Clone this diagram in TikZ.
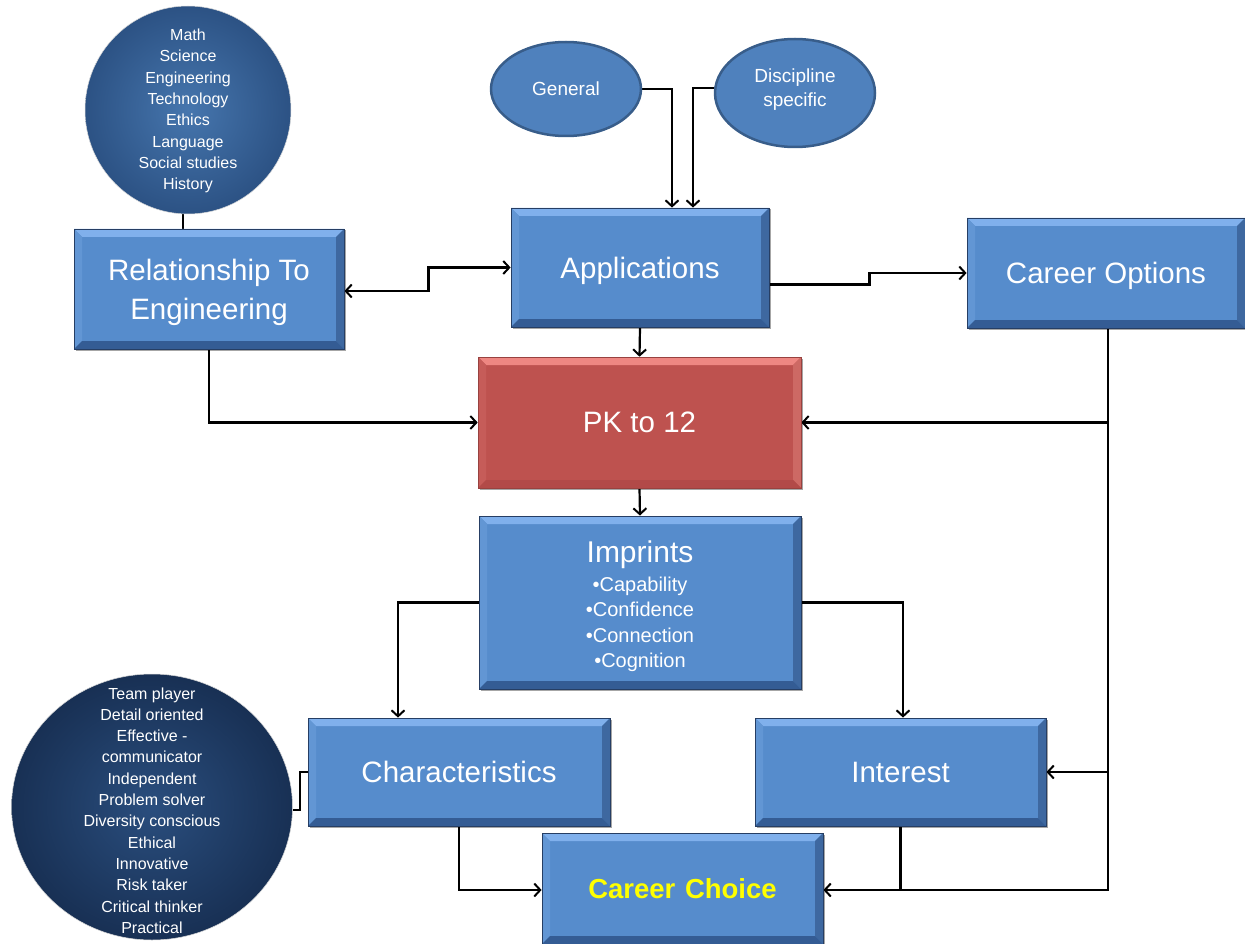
\documentclass[tikz,border=0pt]{standalone}
\usepackage{fontspec}
\setmainfont{Liberation Sans}
\usetikzlibrary{arrows.meta,backgrounds,shapes.geometric,shadows}

\definecolor{boxblue}{RGB}{86,140,204}
\definecolor{bevtop}{RGB}{128,176,236}
\definecolor{bevleft}{RGB}{98,150,212}
\definecolor{bevright}{RGB}{62,104,160}
\definecolor{bevbot}{RGB}{52,92,148}
\definecolor{boxedge}{RGB}{38,62,100}
\definecolor{pkred}{RGB}{190,82,79}
\definecolor{pktop}{RGB}{238,135,130}
\definecolor{pkleft}{RGB}{198,92,89}
\definecolor{pkright}{RGB}{205,105,100}
\definecolor{pkbot}{RGB}{178,74,72}
\definecolor{ellfill}{RGB}{79,129,189}
\definecolor{elledge}{RGB}{56,93,138}
\definecolor{circA}{RGB}{70,118,174}
\definecolor{circAedge}{RGB}{44,82,132}
\definecolor{circB}{RGB}{42,78,126}
\definecolor{circBedge}{RGB}{24,48,84}
\definecolor{careeryellow}{RGB}{255,255,0}

\newcommand{\bevelpp}[4]{%
 \coordinate (bnw) at (path picture bounding box.north west);
 \coordinate (bne) at (path picture bounding box.north east);
 \coordinate (bsw) at (path picture bounding box.south west);
 \coordinate (bse) at (path picture bounding box.south east);
 \fill[#1] (bnw) -- (bne) -- ([shift={(-8pt,-8pt)}]bne) -- ([shift={(8pt,-8pt)}]bnw) -- cycle;
 \fill[#2] (bnw) -- (bsw) -- ([shift={(8pt,8pt)}]bsw) -- ([shift={(8pt,-8pt)}]bnw) -- cycle;
 \fill[#3] (bne) -- (bse) -- ([shift={(-8pt,8pt)}]bse) -- ([shift={(-8pt,-8pt)}]bne) -- cycle;
 \fill[#4] (bsw) -- (bse) -- ([shift={(-8pt,8pt)}]bse) -- ([shift={(8pt,8pt)}]bsw) -- cycle;
}

\tikzset{
 boxbase/.style={rectangle, inner sep=0pt, text=white, align=center, text depth=0pt,
   font=\fontsize{29.5}{39}\selectfont,
   drop shadow={shadow xshift=1.5pt, shadow yshift=-1.5pt, opacity=0.35, fill=black}},
 bluebox/.style={boxbase, fill=boxblue, draw=boxedge, line width=0.8pt,
   path picture={\bevelpp{bevtop}{bevleft}{bevright}{bevbot}}},
 redbox/.style={boxbase, fill=pkred, draw=pkred!80!black, line width=0.6pt,
   path picture={\bevelpp{pktop}{pkleft}{pkright}{pkbot}}},
 topic/.style={ellipse, fill=ellfill, draw=elledge, line width=2.5pt, text=white,
   align=center, inner sep=0pt, font=\fontsize{19}{24}\selectfont},
 listcircle/.style={ellipse, inner sep=0pt, draw=white!70!gray, line width=0.5pt},
 listtext/.style={text=white, align=center, inner sep=0pt,
   font=\fontsize{16}{21.3}\selectfont},
 conn/.style={line width=2.2pt, black},
 arr/.style={conn, -{Straight Barb[length=6pt,width=13pt,line width=2pt]}},
 biarr/.style={conn, {Straight Barb[length=6pt,width=13pt,line width=2pt]}-{Straight Barb[length=6pt,width=13pt,line width=2pt]}},
}

\begin{document}
\begin{tikzpicture}[x=1pt,y=-1pt]
\useasboundingbox (0,0) rectangle (1245,944);

% circles and ellipses
\node[listcircle, minimum width=206pt, minimum height=208pt, inner color=circA, outer color=circAedge] (subj) at (188,110) {};
\node[listtext] (subjtext) at (188,111) {Math\\Science\\Engineering\\Technology\\Ethics\\Language\\Social studies\\History};

\node[listcircle, minimum width=281pt, minimum height=266pt, inner color=circB, outer color=circBedge] (traits) at (152,807) {};
\node[listtext] (traitstext) at (152,810.5) {Team player\\Detail oriented\\Effective -\\communicator\\Independent\\Problem solver\\Diversity conscious\\Ethical\\Innovative\\Risk taker\\Critical thinker\\Practical};

\node[topic, minimum width=150pt, minimum height=94pt] (gen) at (566,89) {General};
\node[topic, minimum width=160pt, minimum height=108pt] (disc) at (795,93) {};
\node[text=white, align=center, inner sep=0pt, font=\fontsize{19}{24}\selectfont] (disctext) at (795,89.5) {Discipline\\specific};

% boxes
\node[bluebox, minimum width=270pt, minimum height=120pt] (rel) at (209,289) {Relationship To\\Engineering};
\node[bluebox, minimum width=258pt, minimum height=119pt] (app) at (640,267.5) {Applications};
\node[bluebox, minimum width=278pt, minimum height=110pt] (opt) at (1106,273) {Career Options};
\node[redbox, minimum width=323pt, minimum height=131pt] (pk) at (639.5,422.5) {PK to 12};
\node[bluebox, minimum width=322pt, minimum height=173pt] (imp) at (640,602.5) {};
\node[text=white, inner sep=0pt, font=\fontsize{30}{32}\selectfont] (imptitle) at (640,555) {Imprints};
\node[text=white, align=center, inner sep=0pt, font=\fontsize{20}{25.4}\selectfont] (impbullets) at (640,624.5) {\textbullet Capability\\\textbullet Confidence\\\textbullet Connection\\\textbullet Cognition};
\node[bluebox, minimum width=302pt, minimum height=108pt] (chr) at (459,772) {Characteristics};
\node[bluebox, minimum width=291pt, minimum height=108pt] (int) at (900.5,772) {Interest};
\node[bluebox, minimum width=281pt, minimum height=111pt, text=careeryellow, font=\fontsize{27.5}{30}\selectfont\bfseries] (choice) at (682.5,888.5) {Career\hspace{0.35em}Choice};

% connectors
\begin{scope}[on background layer]
\draw[arr] (gen.east) -| ([xshift=32pt]app.north);
\draw[arr] ([yshift=5pt]disc.west) -| ([xshift=53pt]app.north);
\draw[conn] ([xshift=-5pt]subj.south) -- ([xshift=-5pt]subj.south |- rel.north);
\draw[biarr] ([yshift=-2pt]rel.east) -- ++(84,0) |- (app.west);
\draw[arr] ([yshift=-17pt]app.east) -- ++(100,0) |- (opt.west);
\draw[arr] (app.south) -- (pk.north);
\draw[arr] (rel.south) |- (pk.west);
\draw[arr] ([xshift=2pt]opt.south) |- ([yshift=-1.5pt]choice.east);
\draw[arr] ([xshift=2pt]opt.south |- pk.east) -- (pk.east);
\draw[arr] ([xshift=2pt]opt.south |- int.east) -- (int.east);
\draw[conn] (int.south) -- ([yshift=-1.5pt]int.south |- choice.east);
\draw[arr] (pk.south) -- (imp.north);
\draw[arr] (imp.west) -| ([xshift=-61pt]chr.north);
\draw[arr] (imp.east) -| ([xshift=2.5pt]int.north);
\draw[arr] (chr.south) |- ([yshift=-1.5pt]choice.west);
\draw[conn] ([yshift=-3pt]traits.east) -- ++(7,0) |- (chr.west);
\end{scope}
\end{tikzpicture}
\end{document}
